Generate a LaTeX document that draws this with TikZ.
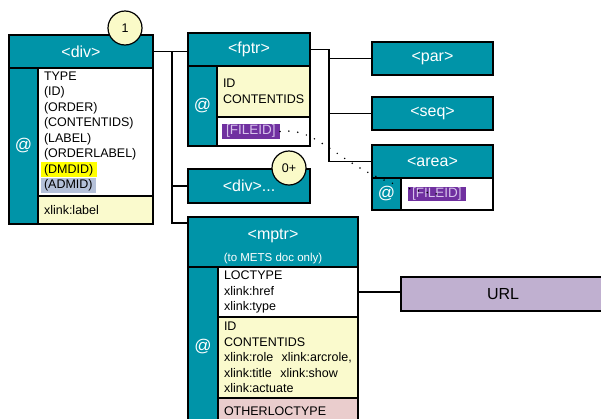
\documentclass[tikz,border=0pt]{standalone}
\usepackage{fontspec}
\setmainfont{Liberation Sans}
\usetikzlibrary{positioning}
\definecolor{metsteal}{RGB}{0,148,168}
\definecolor{attyellow}{RGB}{250,250,205}
\definecolor{numyellow}{RGB}{250,250,200}
\definecolor{hlyellow}{RGB}{255,255,0}
\definecolor{hlgray}{RGB}{180,192,216}
\definecolor{fidpurple}{RGB}{112,48,160}
\definecolor{fidtext}{RGB}{215,195,235}
\definecolor{otherpink}{RGB}{234,205,205}
\definecolor{urllav}{RGB}{192,176,208}
\setlength{\fboxsep}{1.5pt}
\newcommand{\attrhl}[2]{\hspace*{-3.5pt}\colorbox{#1}{\hspace{2pt}#2\hspace{2pt}}}

\begin{document}
\begin{tikzpicture}[x=1pt, y=-1pt,
  cell/.style={draw=black, line width=1.2pt, inner sep=0pt, outer sep=0pt, anchor=north west},
  head/.style={cell, fill=metsteal, text=white, font=\fontsize{16}{18}\selectfont},
  atcol/.style={cell, fill=metsteal, text=white, font=\fontsize{17}{18}\selectfont},
  attr/.style={cell, fill=white, align=left, inner xsep=6pt, font=\fontsize{12.5}{15.5}\selectfont},
  fid/.style={fill=fidpurple, text=fidtext, inner xsep=4pt, inner ysep=1pt, anchor=west, font=\fontsize{13.5}{14}\selectfont},
  num/.style={circle, draw=black, line width=1.2pt, fill=numyellow, minimum size=34pt, inner sep=0pt, font=\fontsize{12.5}{14}\selectfont},
  link/.style={line width=1.2pt},
  fidlink/.style={line width=1.7pt, dash pattern=on 0pt off 9pt, line cap=round}]
\path[use as bounding box, clip] (0,0) rectangle (601,418);
\coordinate (divfork) at (172,0);
\coordinate (fptrfork) at (329,0);
\coordinate (mptrin) at (188,223);
% <div>
\node[head, minimum width=144pt, minimum height=33pt] (divhead) at (9,35) {<div>};
\node[atcol, minimum width=29pt, minimum height=156pt] (divat) at (divhead.south west) {@};
\node[attr, text width=103pt, minimum height=128pt] (divattr) at (divat.north east) {TYPE\\(ID)\\(ORDER)\\(CONTENTIDS)\\(LABEL)\\(ORDERLABEL)\\\attrhl{hlyellow}{(DMDID)}\\\attrhl{hlgray}{(ADMID)}};
\node[attr, fill=attyellow, text width=103pt, minimum height=28pt] (divlink) at (divattr.south west) {xlink:label};
\node[num] (one) at (125,28) {1};
% <fptr>
\node[head, minimum width=122pt, minimum height=33pt] (fptrhead) at (188,33) {<fptr>};
\node[atcol, minimum width=29pt, minimum height=80pt] (fptrat) at (fptrhead.south west) {@};
\node[attr, fill=attyellow, text width=81pt, minimum height=51pt] (fptrattr) at (fptrat.north east) {ID\\CONTENTIDS};
\node[attr, text width=81pt, minimum height=29pt] (fptrfile) at (fptrattr.south west) {};
\node[fid] (fptrfid) at ([xshift=5pt]fptrfile.west) {[FILEID]};
% <div>...
\node[head, minimum width=122pt, minimum height=34pt] (divmore) at (188,169) {<div>...};
\node[num] (more) at (289,168) {0+};
% <mptr>
\node[head, minimum width=170pt, minimum height=50pt, align=center, font=\fontsize{16}{22}\selectfont] (mptrhead) at (188,217) {\rule{0pt}{20pt}<mptr>\\{\fontsize{11.5}{13}\selectfont (to METS doc only)}};
\node[atcol, minimum width=30pt, minimum height=160pt] (mptrat) at (mptrhead.south west) {@};
\node[attr, text width=128pt, minimum height=50pt] (mptrloc) at (mptrat.north east) {LOCTYPE\\xlink:href\\xlink:type};
\node[attr, fill=attyellow, text width=128pt, minimum height=81pt] (mptrattr) at (mptrloc.south west) {ID\\CONTENTIDS\\xlink:role\ \ xlink:arcrole,\\xlink:title\ \ xlink:show\\xlink:actuate};
\node[attr, fill=otherpink, text width=128pt, minimum height=26pt] (mptrother) at (mptrattr.south west) {OTHERLOCTYPE};
% <par>, <seq>, <area>
\node[head, minimum width=121pt, minimum height=33pt] (par) at (372,42) {<par>};
\node[head, minimum width=121pt, minimum height=33pt] (seq) at (372,97) {<seq>};
\node[head, minimum width=121pt, minimum height=33pt] (areahead) at (372,145) {<area>};
\node[atcol, minimum width=29pt, minimum height=32pt] (areaat) at (areahead.south west) {@};
\node[attr, text width=80pt, minimum height=32pt] (areafile) at (areaat.north east) {};
\node[fid] (areafid) at ([xshift=7pt]areafile.west) {[FILEID]};
% URL
\node[cell, fill=urllav, minimum width=204pt, minimum height=34pt, font=\fontsize{16}{18}\selectfont] (url) at (401,277) {URL};
% tree lines
\draw[link] (divhead.east) -- (fptrhead.west |- divhead.east);
\draw[link] (divfork |- divhead.east) |- (mptrin);
\draw[link] (divfork |- divmore.west) -- (divmore.west);
\draw[link] (fptrhead.east) -| (fptrfork |- areahead.west);
\foreach \n in {par,seq,areahead} \draw[link] (fptrfork |- \n.west) -- (\n.west);
\draw[link] (mptrloc.east) -- (url.west |- mptrloc.east);
\draw[fidlink] (fptrfid.east) .. controls (325,125) and (345,182) .. (areafid.center);
\end{tikzpicture}
\end{document}
